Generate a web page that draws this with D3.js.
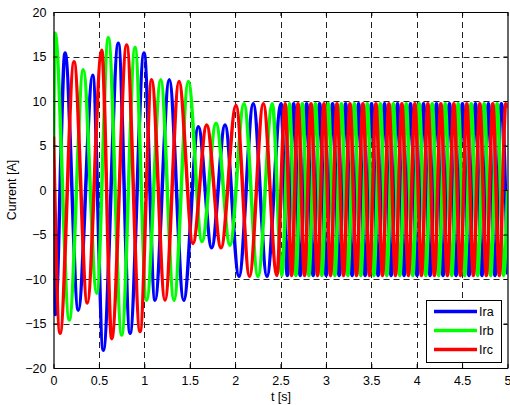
<!DOCTYPE html>
<html>
<head>
<meta charset="utf-8">
<script src="https://cdn.jsdelivr.net/npm/d3@7"></script>
<style>
  html, body { margin: 0; padding: 0; background: #fff; }
  svg { display: block; }
  text { font-family: Arial, "Liberation Sans", Helvetica, sans-serif; fill: #000; }
</style>
</head>
<body>
<svg id="chart" width="510" height="405"></svg>
<script>
// ---- data (extrema of each phase current) ----
const xTicks = [0, 0.5, 1, 1.5, 2, 2.5, 3, 3.5, 4, 4.5, 5];
const yTicks = [-20, -15, -10, -5, 0, 5, 10, 15, 20];
const seriesNames = ["Ira", "Irb", "Irc"];
const seriesColors = ["#0000ff", "#00ff00", "#ff0000"];

// Ira (blue)
const ira_t = [0, 0.02, 0.127, 0.273, 0.432, 0.548, 0.714, 0.843, 0.997, 1.118, 1.275, 1.434, 1.595, 1.742, 1.889, 2.043, 2.200, 2.351, 2.506,
  2.575, 2.645, 2.717, 2.788, 2.860, 2.931, 3.003, 3.074, 3.146, 3.217, 3.289, 3.360, 3.432, 3.503, 3.575, 3.646, 3.718, 3.789,
  3.861, 3.932, 4.004, 4.075, 4.147, 4.218, 4.290, 4.361, 4.433, 4.504, 4.576, 4.647, 4.719, 4.790, 4.862, 4.933, 5.0];
const ira_v = [0, -14, 15.4, -13.5, 12.9, -18.0, 16.5, -16.1, 15.4, -12.4, 12.4, -12.4, 7.1, -6.5, 7.3, -9.7, 9.7, -9.7, 9.7,
  -9.6, 9.7, -9.6, 9.7, -9.6, 9.7, -9.6, 9.7, -9.6, 9.7, -9.6, 9.7, -9.6, 9.7, -9.6, 9.7, -9.6, 9.7,
  -9.6, 9.7, -9.6, 9.7, -9.6, 9.7, -9.6, 9.7, -9.6, 9.7, -9.6, 9.7, -9.6, 9.7, -9.6, 9.7, -9.5];

// Irb (green)
const irb_t = [0, 0.017, 0.174, 0.328, 0.476, 0.604, 0.751, 0.898, 1.026, 1.181, 1.327, 1.485, 1.635, 1.790, 1.944, 2.098, 2.252, 2.410,
  2.515, 2.598, 2.670, 2.741, 2.813, 2.884, 2.956, 3.027, 3.099, 3.170, 3.242, 3.313, 3.385, 3.456, 3.528, 3.599, 3.671, 3.742,
  3.814, 3.885, 3.957, 4.028, 4.100, 4.171, 4.243, 4.314, 4.386, 4.457, 4.529, 4.600, 4.672, 4.743, 4.815, 4.886, 4.958, 5.0];
const irb_v = [3, 17.6, -14.6, 13.5, -11.6, 17.1, -16.3, 16.0, -12.4, 12.4, -12.4, 12.2, -5.8, 7.5, -6.2, 9.7, -9.7, 9.7,
  -9.6, 9.7, -9.6, 9.7, -9.6, 9.7, -9.6, 9.7, -9.6, 9.7, -9.6, 9.7, -9.6, 9.7, -9.6, 9.7, -9.6, 9.7,
  -9.6, 9.7, -9.6, 9.7, -9.6, 9.7, -9.6, 9.7, -9.6, 9.7, -9.6, 9.7, -9.6, 9.7, -9.6, 9.7, -9.6, 0];

// Irc (red)
const irc_t = [0, 0.072, 0.226, 0.372, 0.531, 0.641, 0.806, 0.953, 1.081, 1.228, 1.382, 1.536, 1.687, 1.845, 2.010, 2.159, 2.311,
  2.460, 2.550, 2.622, 2.693, 2.765, 2.836, 2.908, 2.979, 3.051, 3.122, 3.194, 3.265, 3.337, 3.408, 3.480, 3.551, 3.623, 3.694,
  3.766, 3.837, 3.909, 3.980, 4.052, 4.123, 4.195, 4.266, 4.338, 4.409, 4.481, 4.552, 4.624, 4.695, 4.767, 4.838, 4.910, 4.981, 5.0];
const irc_v = [6, -16.1, 14.4, -12.7, 15.7, -16.7, 16.3, -15.9, 12.4, -12.4, 12.2, -6.0, 7.3, -6.5, 9.5, -9.7, 9.7,
  -9.6, 9.7, -9.6, 9.7, -9.6, 9.7, -9.6, 9.7, -9.6, 9.7, -9.6, 9.7, -9.6, 9.7, -9.6, 9.7, -9.6, 9.7,
  -9.6, 9.7, -9.6, 9.7, -9.6, 9.7, -9.6, 9.7, -9.6, 9.7, -9.6, 9.7, -9.6, 9.7, -9.6, 9.7, -9.6, 9.7, 9.2];

// ---- drawing ----
const svg = d3.select("#chart");
const L = 53.5, R = 507.5, T = 12, B = 368;
const x = d3.scaleLinear().domain([0, 5]).range([L, R]);
const y = d3.scaleLinear().domain([-20, 20]).range([B, T]);

svg.append("defs").append("clipPath").attr("id", "clip")
  .append("rect").attr("x", L).attr("y", T).attr("width", R - L).attr("height", B - T);

// grid
const grid = svg.append("g");
grid.selectAll("line.vx").data(xTicks.filter(d => d > 0 && d < 5)).join("line")
  .attr("x1", d => Math.round(x(d)) + 0.5).attr("x2", d => Math.round(x(d)) + 0.5)
  .attr("y1", T).attr("y2", B)
  .attr("stroke", "#222").attr("stroke-width", 1).attr("stroke-dasharray", "6,4");
grid.selectAll("line.hy").data(yTicks.filter(d => d > -20 && d < 20)).join("line")
  .attr("y1", d => Math.round(y(d)) + 0.5).attr("y2", d => Math.round(y(d)) + 0.5)
  .attr("x1", L).attr("x2", R)
  .attr("stroke", "#222").attr("stroke-width", 1).attr("stroke-dasharray", "6,4");

// series
const series = [
  {name: seriesNames[0], color: seriesColors[0], t: ira_t, v: ira_v},
  {name: seriesNames[1], color: seriesColors[1], t: irb_t, v: irb_v},
  {name: seriesNames[2], color: seriesColors[2], t: irc_t, v: irc_v}
];
const line = d3.line().x(d => x(d[0])).y(d => y(d[1])).curve(d3.curveMonotoneX);
const plot = svg.append("g").attr("clip-path", "url(#clip)");
series.forEach(s => {
  plot.append("path")
    .datum(s.t.map((t, i) => [t, s.v[i]]))
    .attr("fill", "none").attr("stroke", s.color).attr("stroke-width", 3.5)
    .attr("stroke-linejoin", "round")
    .attr("d", line);
});

// axes (box with inward ticks)
const ax = svg.append("g");
ax.append("g").attr("transform", `translate(0,${B})`)
  .call(d3.axisBottom(x).tickValues(xTicks).tickSizeInner(-4).tickSizeOuter(0).tickPadding(8).tickFormat(d3.format("")));
ax.append("g").attr("transform", `translate(0,${T})`)
  .call(d3.axisTop(x).tickValues(xTicks).tickSizeInner(-4).tickSizeOuter(0).tickFormat(""));
ax.append("g").attr("transform", `translate(${L},0)`)
  .call(d3.axisLeft(y).tickValues(yTicks).tickSizeInner(-4).tickSizeOuter(0).tickPadding(7).tickFormat(d3.format("")));
ax.append("g").attr("transform", `translate(${R},0)`)
  .call(d3.axisRight(y).tickValues(yTicks).tickSizeInner(-4).tickSizeOuter(0).tickFormat(""));
ax.selectAll(".domain").attr("stroke", "#000").attr("stroke-width", 1.2);
ax.selectAll(".tick line").attr("stroke", "#000");
ax.selectAll("text").style("font-size", "12.5px").attr("font-family", null);

// axis titles
svg.append("text").attr("x", 281).attr("y", 401).attr("text-anchor", "middle")
  .style("font-size", "12.5px").text("t [s]");
svg.append("text").attr("transform", "translate(16,190) rotate(-90)").attr("text-anchor", "middle")
  .style("font-size", "12.5px").text("Current [A]");

// legend
const lg = svg.append("g");
lg.append("rect").attr("x", 426.5).attr("y", 300.5).attr("width", 75).attr("height", 62)
  .attr("fill", "#fff").attr("stroke", "#000").attr("stroke-width", 1);
series.forEach((s, i) => {
  const ly = 311.5 + i * 19;
  lg.append("line").attr("x1", 434).attr("x2", 477).attr("y1", ly).attr("y2", ly)
    .attr("stroke", s.color).attr("stroke-width", 3.5);
  lg.append("text").attr("x", 479).attr("y", ly + 4.5).style("font-size", "12.5px").text(s.name);
});
</script>
</body>
</html>
